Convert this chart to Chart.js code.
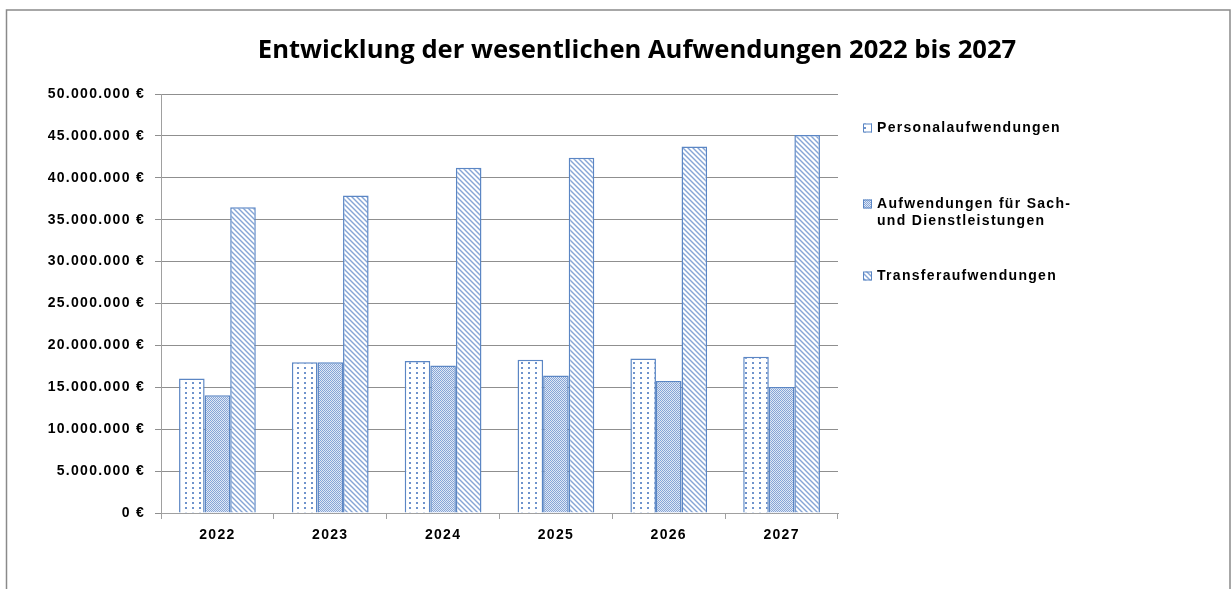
<!DOCTYPE html>
<html>
<head>
<meta charset="utf-8">
<script src="https://cdn.jsdelivr.net/npm/chart.js@4"></script>
<style>
  html, body { margin: 0; padding: 0; background: #fff; }
  #wrap { width: 1231px; height: 589px; }
</style>
</head>
<body>
<div id="wrap"><canvas id="chart"></canvas></div>
<script>
// Daten
const categories = ["2022", "2023", "2024", "2025", "2026", "2027"]
const seriesNames = ["Personalaufwendungen", "Aufwendungen für Sach- und Dienstleistungen", "Transferaufwendungen"]
const personal = [16050000, 18000000, 18150000, 18300000, 18450000, 18650000]
const sachDienst = [14050000, 18000000, 17600000, 16400000, 15750000, 15050000]
const transfer = [36500000, 37900000, 41200000, 42400000, 43750000, 45100000]
const legendLines = [["Personalaufwendungen"], ["Aufwendungen für Sach-", "und Dienstleistungen"], ["Transferaufwendungen"]]

const BLUE = "#5b86c4"

// Muster (Excel-Schraffuren)
function makePattern(kind) {
  const c = document.createElement("canvas")
  const p = c.getContext("2d")
  if (kind === "dots") {
    c.width = 7; c.height = 5
    p.fillStyle = "#fff"; p.fillRect(0, 0, 7, 5)
    p.fillStyle = "#6f93cc"
    p.fillRect(3, 2, 2, 2)
  } else if (kind === "checker") {
    c.width = 2; c.height = 2
    p.fillStyle = "#e0e8f5"; p.fillRect(0, 0, 2, 2)
    p.fillStyle = "#86a5d7"
    p.fillRect(0, 0, 1, 1); p.fillRect(1, 1, 1, 1)
  } else {
    c.width = 5; c.height = 5
    p.fillStyle = "#fff"; p.fillRect(0, 0, 5, 5)
    p.strokeStyle = "#86a5d6"; p.lineWidth = 1.4
    for (const k of [-5, 0, 5]) {
      p.beginPath(); p.moveTo(k - 1, -1); p.lineTo(k + 6, 6); p.stroke()
    }
  }
  return p.createPattern(c, "repeat")
}

const fills = [makePattern("dots"), makePattern("checker"), makePattern("stripes")]

function fmtEuro(v) {
  return String(v).replace(/\B(?=(\d{3})+(?!\d))/g, ".") + " €"
}

// Schriftabstand wie im Original
const spacingPlugin = {
  id: "spacing",
  beforeUpdate(chart) { chart.ctx.letterSpacing = "1.3px" },
  beforeDraw(chart) { chart.ctx.letterSpacing = "1.3px" },
}

// Rahmen, Titel und Legende
const decoPlugin = {
  id: "deco",
  afterDraw(chart) {
    const ctx = chart.ctx
    ctx.save()
    ctx.letterSpacing = "0px"
    ctx.strokeStyle = "#8a8a8a"
    ctx.lineWidth = 1.5
    ctx.strokeRect(6.5, 10, 1223.5, 700)

    ctx.fillStyle = "#000"
    ctx.font = "bold 25.6px 'Open Sans', sans-serif"
    ctx.textAlign = "center"
    ctx.textBaseline = "middle"
    ctx.fillText("Entwicklung der wesentlichen Aufwendungen 2022 bis 2027", 637, 51)

    ctx.letterSpacing = "1.3px"
    ctx.font = "bold 14px 'Liberation Sans', Arial, sans-serif"
    ctx.textAlign = "left"
    const ys = [128, 204, 276]
    legendLines.forEach((lines, i) => {
      const y = ys[i]
      ctx.fillStyle = fills[i]
      ctx.fillRect(863, y - 4.5, 9, 9)
      ctx.strokeStyle = BLUE
      ctx.lineWidth = 1
      ctx.strokeRect(863.5, y - 4, 8, 8)
      ctx.fillStyle = "#000"
      lines.forEach((t, j) => ctx.fillText(t, 877, y + j * 17))
    })
    ctx.restore()
  },
}

const ctx = document.getElementById("chart").getContext("2d")
new Chart(ctx, {
  type: "bar",
  data: {
    labels: categories,
    datasets: [personal, sachDienst, transfer].map((d, i) => ({
      label: seriesNames[i],
      data: d,
      backgroundColor: fills[i],
      borderColor: BLUE,
      borderWidth: 1.5,
      categoryPercentage: 0.68,
      barPercentage: 1,
    })),
  },
  options: {
    responsive: true,
    maintainAspectRatio: false,
    animation: false,
    layout: { padding: { top: 94, right: 393, bottom: 36, left: 0 } },
    plugins: {
      legend: { display: false },
      title: { display: false },
      tooltip: { enabled: false },
    },
    scales: {
      x: {
        afterFit: (s) => { s.height = 40 },
        grid: { offset: true, drawOnChartArea: false, drawTicks: true, tickLength: 6, color: "#a0a0a0" },
        border: { color: "#a0a0a0" },
        ticks: { color: "#000", padding: 8, font: { family: "'Liberation Sans', Arial", size: 14, weight: "bold" } },
      },
      y: {
        min: 0,
        max: 50000000,
        afterFit: (s) => { s.width = 161 },
        grid: { color: "#8f8f8f", tickLength: 6 },
        border: { color: "#a0a0a0" },
        ticks: {
          stepSize: 5000000,
          color: "#000",
          padding: 10,
          font: { family: "'Liberation Sans', Arial", size: 14, weight: "bold" },
          callback: (v) => fmtEuro(v),
        },
      },
    },
  },
  plugins: [spacingPlugin, decoPlugin],
})
</script>
</body>
</html>
